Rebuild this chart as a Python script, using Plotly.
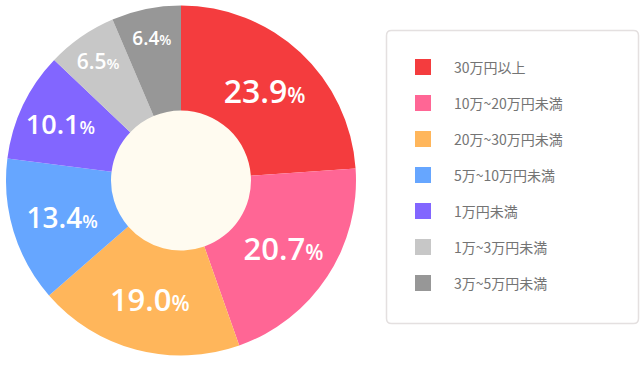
import plotly.graph_objects as go

W, H = 640, 366

categories = ["30万円以上", "10万~20万円未満", "20万~30万円未満", "5万~10万円未満",
              "1万円未満", "1万~3万円未満", "3万~5万円未満"]
values = [23.9, 20.7, 19.0, 13.4, 10.1, 6.5, 6.4]
colors = ["#F43C3E", "#FF6695", "#FFB65B", "#66A6FF", "#8266FF", "#C7C7C7", "#979797"]
num_sizes = [32, 31, 31, 28, 27, 21, 19]
pct_sizes = [21, 21, 21, 18, 18, 15, 14]


def px(x):
    return x / W


def py(y):
    return 1 - y / H


labels_text = [f"{v:.1f}<span style='font-size:{p}px'>%</span>" for v, p in zip(values, pct_sizes)]

# pie geometry (pixels)
cx, cy, R = 181, 180.5, 175
hole_r = 70

fig = go.Figure()
fig.add_trace(go.Pie(
    labels=categories,
    values=values,
    text=labels_text,
    textinfo="text",
    textposition="inside",
    insidetextorientation="horizontal",
    textfont=dict(family="Open Sans", size=num_sizes, color="white", weight=600),
    marker=dict(colors=colors, line=dict(width=0)),
    sort=False,
    direction="clockwise",
    rotation=0,
    hole=hole_r / R,
    domain=dict(x=[px(cx - R), px(cx + R)], y=[py(cy + R), py(cy - R)]),
    showlegend=False,
    hoverinfo="label+percent",
))

shapes = []
# hole fill
shapes.append(dict(type="circle", xref="paper", yref="paper", layer="below",
                   x0=px(cx - hole_r - 1), x1=px(cx + hole_r + 1),
                   y0=py(cy + hole_r + 1), y1=py(cy - hole_r - 1),
                   fillcolor="#FFFBF0", line=dict(width=0)))

# legend box with rounded corners
bx0, by0, bx1, by1, r = 386.5, 30.5, 638.5, 323.5, 5
path = (f"M {px(bx0 + r)},{py(by0)} L {px(bx1 - r)},{py(by0)} "
        f"Q {px(bx1)},{py(by0)} {px(bx1)},{py(by0 + r)} "
        f"L {px(bx1)},{py(by1 - r)} Q {px(bx1)},{py(by1)} {px(bx1 - r)},{py(by1)} "
        f"L {px(bx0 + r)},{py(by1)} Q {px(bx0)},{py(by1)} {px(bx0)},{py(by1 - r)} "
        f"L {px(bx0)},{py(by0 + r)} Q {px(bx0)},{py(by0)} {px(bx0 + r)},{py(by0)} Z")
shapes.append(dict(type="path", xref="paper", yref="paper", path=path,
                   fillcolor="white", line=dict(color="#E4E0E0", width=1.5), layer="below"))

annotations = []
y_first, step = 67, 36
for i, (cat, col) in enumerate(zip(categories, colors)):
    yc = y_first + i * step
    shapes.append(dict(type="rect", xref="paper", yref="paper",
                       x0=px(415), x1=px(431), y0=py(yc + 8), y1=py(yc - 8),
                       fillcolor=col, line=dict(width=0)))
    annotations.append(dict(xref="paper", yref="paper", x=px(452), y=py(yc),
                            xanchor="left", yanchor="middle", showarrow=False,
                            text=cat,
                            font=dict(family="Noto Sans CJK JP", size=14, color="#747474")))

fig.update_layout(
    width=W, height=H,
    margin=dict(l=0, r=0, t=0, b=0),
    paper_bgcolor="white",
    plot_bgcolor="white",
    shapes=shapes,
    annotations=annotations,
)

fig.write_html("out.html",
               config={"displayModeBar": False},
               post_script="document.body.style.margin='0px';document.body.style.overflow='hidden';")
